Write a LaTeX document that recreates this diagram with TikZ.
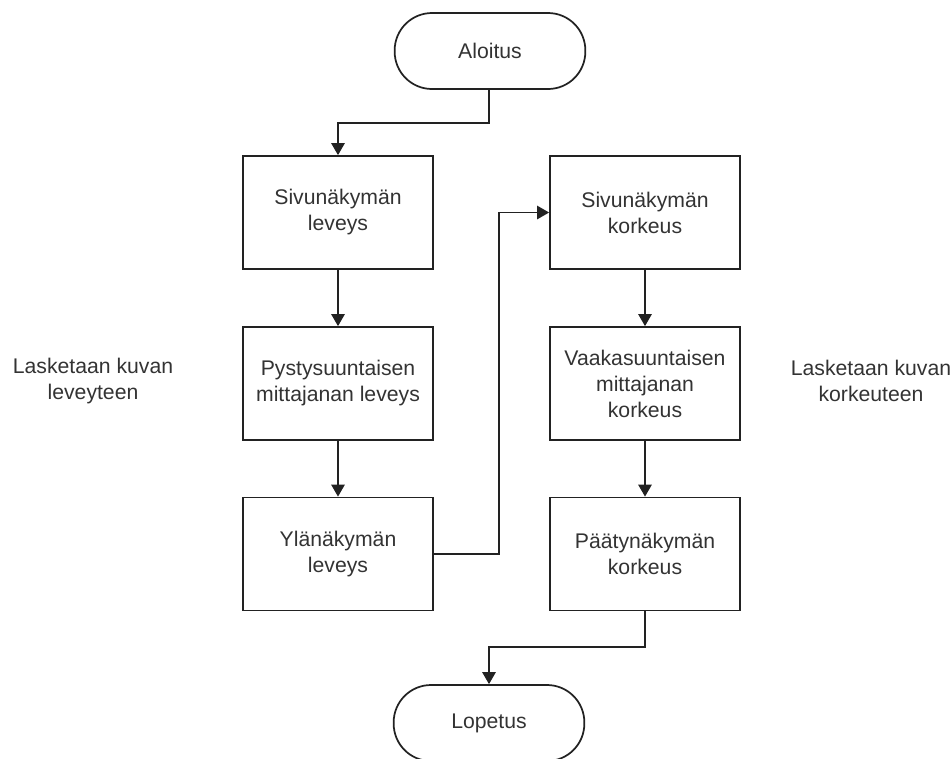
\documentclass[tikz,border=0pt]{standalone}
\usepackage{fontspec}
\setmainfont{Liberation Sans}
\usetikzlibrary{arrows.meta}
\definecolor{linec}{HTML}{222222}
\definecolor{textc}{HTML}{333333}
\begin{document}
\begin{tikzpicture}[x=0.75pt,y=-0.75pt,
  every node/.style={font=\fontsize{15.9pt}{19.5pt}\selectfont, text=textc},
  stepbox/.style={draw=linec, line width=1.3pt, minimum width=142.5pt, minimum height=84.75pt, align=center, inner sep=0pt, fill=white},
  term/.style={draw=linec, line width=1.3pt, minimum width=143pt, minimum height=57pt, rounded corners=28pt, align=center, inner sep=0pt},
  plain/.style={align=center, inner sep=0pt},
  conn/.style={draw=linec, line width=1.3pt, -{Triangle[width=10pt,length=9pt]}}
]
\useasboundingbox (0,0) rectangle (952,758);
\node[term] (start) at (490,51) {Aloitus};
\node[stepbox] (l1) at (338,212.5) {Sivunäkymän\\leveys};
\node[stepbox] (l2) at (338,383.5) {Pystysuuntaisen\\mittajanan leveys};
\node[stepbox] (l3) at (338,554) {Ylänäkymän\\leveys};
\node[stepbox] (r1) at (645,212.5) {Sivunäkymän\\korkeus};
\node[stepbox] (r2) at (645,383.5) {Vaakasuuntaisen\\mittajanan\\korkeus};
\node[stepbox] (r3) at (645,554) {Päätynäkymän\\korkeus};
\node[term] (stop) at (489,723) {Lopetus};
\node[plain] (lab1) at (93,381) {Lasketaan kuvan\\leveyteen};
\node[plain] (lab2) at (871,381) {Lasketaan kuvan\\korkeuteen};
\coordinate (c1) at (489,123);
\coordinate (c2) at (338,123);
\coordinate (c3) at (499,554);
\coordinate (c4) at (499,212.5);
\coordinate (c5) at (645,647);
\coordinate (c6) at (489,647);
\draw[conn] (start.south -| c1) -- (c1) -- (c2) -- (l1.north);
\draw[conn] (l1) -- (l2);
\draw[conn] (l2) -- (l3);
\draw[conn] (l3.east) -- (c3) -- (c4) -- (r1.west);
\draw[conn] (r1) -- (r2);
\draw[conn] (r2) -- (r3);
\draw[conn] (r3.south) -- (c5) -- (c6) -- (stop.north -| c6);
\end{tikzpicture}
\end{document}
